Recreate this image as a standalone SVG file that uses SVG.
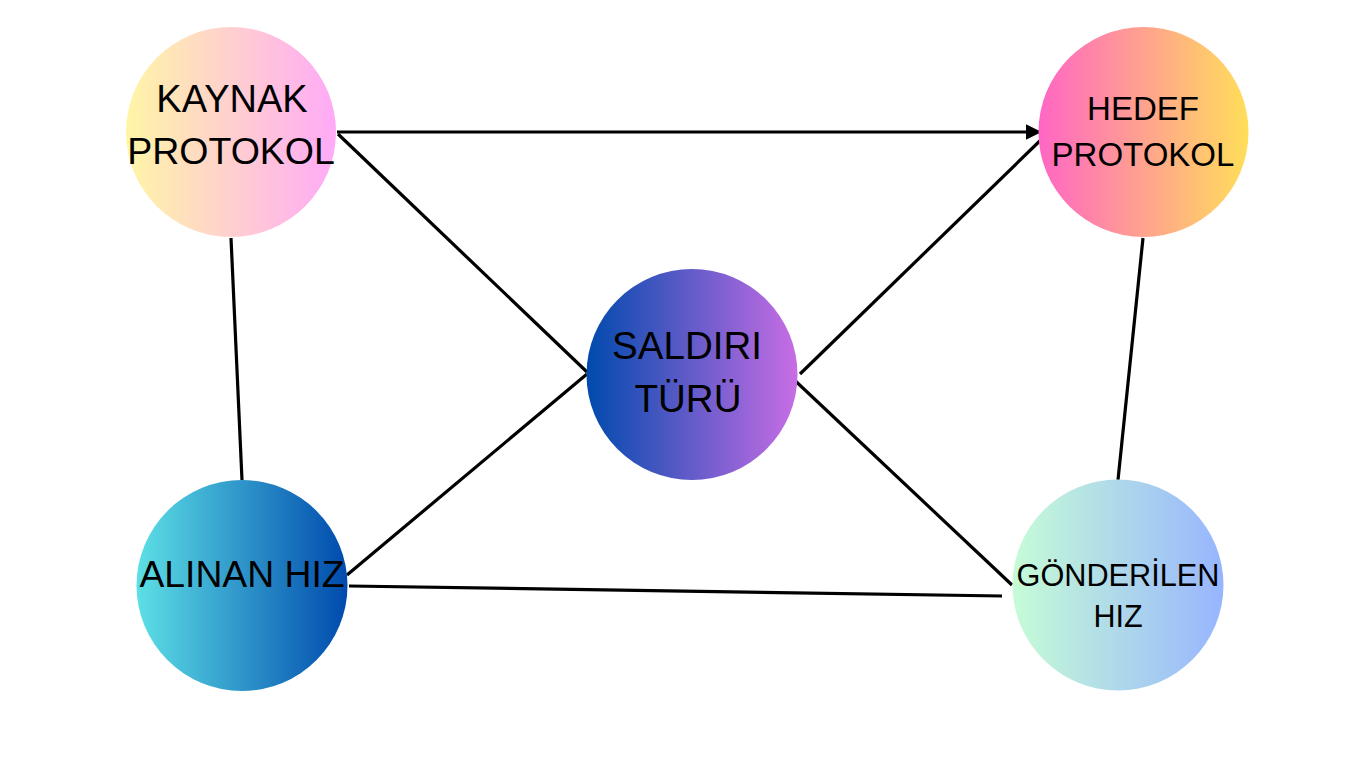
<svg xmlns="http://www.w3.org/2000/svg" width="1366" height="768" viewBox="0 0 1366 768">
<style>
.t{font-family:"Liberation Sans",Arial,sans-serif;fill:#000;text-anchor:middle}
.c line{stroke:#000;stroke-width:3.2;fill:none}
</style>
<defs>
<linearGradient id="g1" x1="0" y1="0" x2="1" y2="0"><stop offset="0" stop-color="#FFF5A6"/><stop offset="1" stop-color="#FFAAF7"/></linearGradient>
<linearGradient id="g2" x1="0" y1="0" x2="1" y2="0"><stop offset="0" stop-color="#FF66C4"/><stop offset="1" stop-color="#FFDE59"/></linearGradient>
<linearGradient id="g3" x1="0" y1="0" x2="1" y2="0"><stop offset="0" stop-color="#004AAD"/><stop offset="1" stop-color="#C86DE5"/></linearGradient>
<linearGradient id="g4" x1="0" y1="0" x2="1" y2="0"><stop offset="0" stop-color="#5DE0E6"/><stop offset="1" stop-color="#004AAD"/></linearGradient>
<linearGradient id="g5" x1="0" y1="0" x2="1" y2="0"><stop offset="0" stop-color="#C6FCD6"/><stop offset="1" stop-color="#97B5FE"/></linearGradient>
<marker id="ah" viewBox="0 0 10 10" refX="9" refY="5" markerWidth="5" markerHeight="5" orient="auto" markerUnits="strokeWidth"><path d="M0,0 L10,5 L0,10 Z" fill="#000"/></marker>
</defs>
<rect width="1366" height="768" fill="#fff"/>
<g id="connectors" class="c">
<line x1="337" y1="132" x2="1040" y2="132" marker-end="url(#ah)"/>
<line x1="338" y1="134" x2="587" y2="372"/>
<line x1="231" y1="238" x2="242" y2="480"/>
<line x1="800" y1="374" x2="1048" y2="133"/>
<line x1="1143" y1="238" x2="1118" y2="480"/>
<line x1="347" y1="575" x2="587" y2="374"/>
<line x1="788" y1="374" x2="1012" y2="585"/>
<line x1="349" y1="586" x2="1002" y2="596"/>
</g>
<g id="kaynak">
<circle cx="231" cy="132" r="105" fill="url(#g1)"/>
<text class="t" x="232" y="112" font-size="38">KAYNAK</text>
<text class="t" x="231" y="164" font-size="37.5">PROTOKOL</text>
</g>
<g id="hedef">
<circle cx="1143.5" cy="132" r="105" fill="url(#g2)"/>
<text class="t" x="1143" y="120" font-size="33">HEDEF</text>
<text class="t" x="1143" y="166" font-size="33">PROTOKOL</text>
</g>
<g id="saldiri">
<circle cx="692" cy="374.5" r="105.5" fill="url(#g3)"/>
<text class="t" x="687" y="359" font-size="38.5">SALDIRI</text>
<text class="t" x="688" y="412" font-size="38.5">TÜRÜ</text>
</g>
<g id="alinan">
<circle cx="242" cy="585.5" r="105.5" fill="url(#g4)"/>
<text class="t" x="242" y="587" font-size="37.3">ALINAN HIZ</text>
</g>
<g id="gonderilen">
<circle cx="1118" cy="585" r="105.5" fill="url(#g5)"/>
<text class="t" x="1118" y="586" font-size="30.7">GÖNDERİLEN</text>
<text class="t" x="1118" y="627" font-size="30.5">HIZ</text>
</g>
</svg>
